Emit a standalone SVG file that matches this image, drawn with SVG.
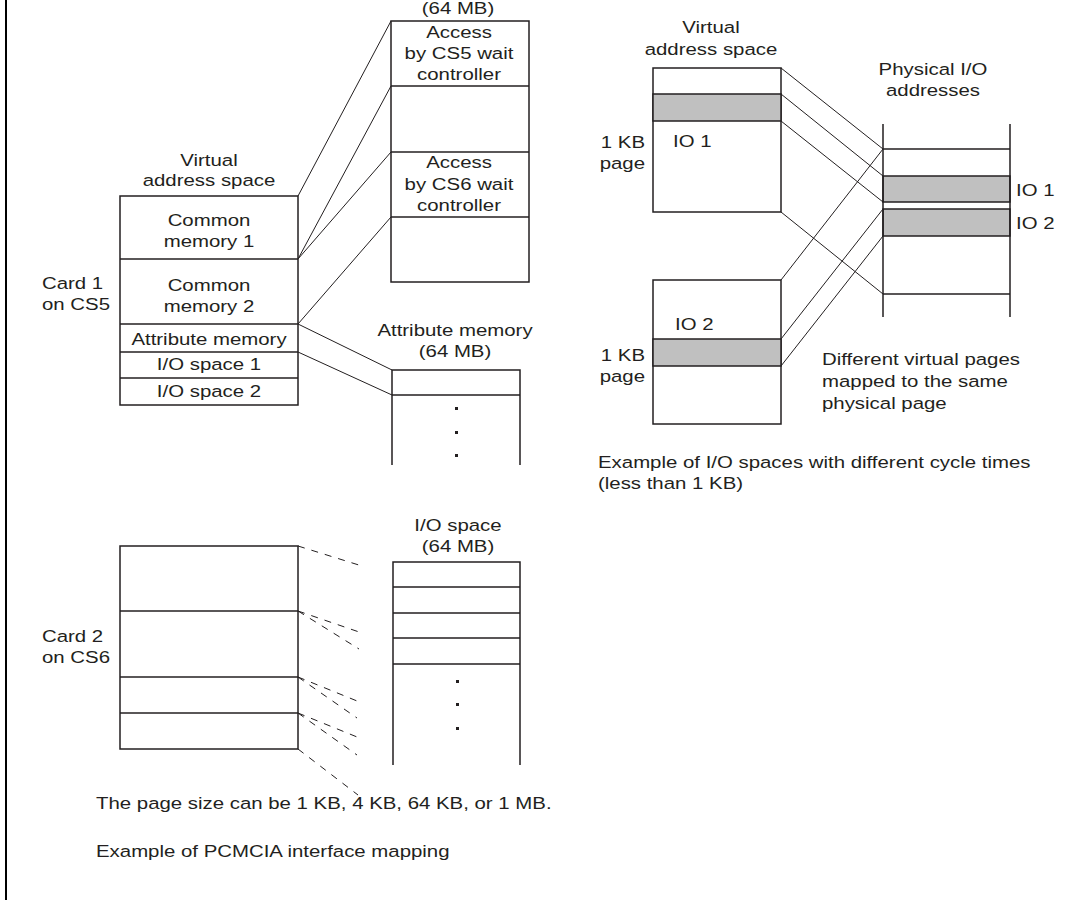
<svg xmlns="http://www.w3.org/2000/svg" width="1068" height="900" viewBox="0 0 1068 900">
<style>
text{font-family:"Liberation Sans",Arial,sans-serif;font-size:17px;fill:#231f20}
.m{text-anchor:middle}
.e{text-anchor:end}
.bx{fill:#fff;stroke:#231f20;stroke-width:1.5}
.ln{stroke:#231f20;stroke-width:1.5;fill:none}
.cn{stroke:#231f20;stroke-width:1;fill:none}
.ds{stroke:#231f20;stroke-width:1;fill:none;stroke-dasharray:7 7}
.gr{fill:#c0c0c0;stroke:#231f20;stroke-width:1.5}
.dot{fill:#231f20}
</style>
<rect x="0" y="0" width="1068" height="900" fill="#fff"/>
<line x1="6" y1="0" x2="6" y2="900" stroke="#000" stroke-width="2"/>

<g id="connectors">
<line class="cn" x1="298" y1="196" x2="391" y2="21"/>
<line class="cn" x1="298" y1="259" x2="391" y2="86"/>
<line class="cn" x1="298" y1="259" x2="391" y2="152"/>
<line class="cn" x1="298" y1="324" x2="391" y2="217"/>
<line class="cn" x1="298" y1="324" x2="392" y2="370"/>
<line class="cn" x1="298" y1="352" x2="392" y2="395"/>
<line class="ds" x1="298" y1="546" x2="362" y2="566"/>
<line class="ds" x1="298" y1="611" x2="362" y2="633"/>
<line class="ds" x1="298" y1="611" x2="359" y2="649"/>
<line class="ds" x1="298" y1="677" x2="362" y2="703"/>
<line class="ds" x1="298" y1="677" x2="357" y2="718"/>
<line class="ds" x1="298" y1="713" x2="362" y2="739"/>
<line class="ds" x1="298" y1="713" x2="357" y2="755"/>
<line class="ds" x1="298" y1="749" x2="358" y2="795"/>
<line class="cn" x1="781" y1="68" x2="883" y2="149"/>
<line class="cn" x1="781" y1="94" x2="883" y2="176"/>
<line class="cn" x1="781" y1="121" x2="883" y2="202"/>
<line class="cn" x1="781" y1="212" x2="883" y2="294"/>
<line class="cn" x1="781" y1="280" x2="883" y2="149"/>
<line class="cn" x1="781" y1="339" x2="883" y2="209"/>
<line class="cn" x1="781" y1="366" x2="883" y2="236"/>
</g>

<g id="common-memory-64mb">
<text class="m" transform="translate(458 14) scale(1.2 1)">(64 MB)</text>
<rect class="bx" x="391" y="21" width="138" height="261"/>
<line class="ln" x1="391" y1="86" x2="529" y2="86"/>
<line class="ln" x1="391" y1="152" x2="529" y2="152"/>
<line class="ln" x1="391" y1="217" x2="529" y2="217"/>
<text class="m" transform="translate(459 38) scale(1.2 1)">Access</text>
<text class="m" transform="translate(459 59) scale(1.2 1)">by CS5 wait</text>
<text class="m" transform="translate(459 80) scale(1.2 1)">controller</text>
<text class="m" transform="translate(459 168) scale(1.2 1)">Access</text>
<text class="m" transform="translate(459 190) scale(1.2 1)">by CS6 wait</text>
<text class="m" transform="translate(459 211) scale(1.2 1)">controller</text>
</g>

<g id="card1">
<text transform="translate(42 289) scale(1.2 1)">Card 1</text>
<text transform="translate(42 310) scale(1.2 1)">on CS5</text>
<text class="m" transform="translate(209 166) scale(1.2 1)">Virtual</text>
<text class="m" transform="translate(209 186) scale(1.2 1)">address space</text>
<rect class="bx" x="120" y="196" width="178" height="209"/>
<line class="ln" x1="120" y1="259" x2="298" y2="259"/>
<line class="ln" x1="120" y1="324" x2="298" y2="324"/>
<line class="ln" x1="120" y1="352" x2="298" y2="352"/>
<line class="ln" x1="120" y1="378" x2="298" y2="378"/>
<text class="m" transform="translate(209 226) scale(1.2 1)">Common</text>
<text class="m" transform="translate(209 247) scale(1.2 1)">memory 1</text>
<text class="m" transform="translate(209 291) scale(1.2 1)">Common</text>
<text class="m" transform="translate(209 312) scale(1.2 1)">memory 2</text>
<text class="m" transform="translate(209 345) scale(1.2 1)">Attribute memory</text>
<text class="m" transform="translate(209 370) scale(1.2 1)">I/O space 1</text>
<text class="m" transform="translate(209 397) scale(1.2 1)">I/O space 2</text>
</g>

<g id="attribute-memory-64mb">
<text class="m" transform="translate(455 336) scale(1.2 1)">Attribute memory</text>
<text class="m" transform="translate(455 357) scale(1.2 1)">(64 MB)</text>
<path class="ln" d="M392 465V370H520V465M392 395H520"/>
<rect class="dot" x="455" y="407" width="3" height="3"/>
<rect class="dot" x="455" y="431" width="3" height="3"/>
<rect class="dot" x="455" y="454" width="3" height="3"/>
</g>

<g id="card2">
<text transform="translate(42 642) scale(1.2 1)">Card 2</text>
<text transform="translate(42 663) scale(1.2 1)">on CS6</text>
<rect class="bx" x="120" y="546" width="178" height="203"/>
<line class="ln" x1="120" y1="611" x2="298" y2="611"/>
<line class="ln" x1="120" y1="677" x2="298" y2="677"/>
<line class="ln" x1="120" y1="713" x2="298" y2="713"/>
</g>

<g id="io-space-64mb">
<text class="m" transform="translate(458 531) scale(1.2 1)">I/O space</text>
<text class="m" transform="translate(458 552) scale(1.2 1)">(64 MB)</text>
<path class="ln" d="M393 765V562H520V765M393 587H520M393 613H520M393 638H520M393 664H520"/>
<rect class="dot" x="456" y="680" width="3" height="3"/>
<rect class="dot" x="456" y="703" width="3" height="3"/>
<rect class="dot" x="456" y="727" width="3" height="3"/>
</g>

<g id="virtual-page-io1">
<text class="m" transform="translate(711 33) scale(1.2 1)">Virtual</text>
<text class="m" transform="translate(711 55) scale(1.2 1)">address space</text>
<rect class="bx" x="653" y="68" width="128" height="144"/>
<rect class="gr" x="653" y="94" width="128" height="27"/>
<text class="e" transform="translate(645 148) scale(1.2 1)">1 KB</text>
<text class="e" transform="translate(645 169) scale(1.2 1)">page</text>
<text transform="translate(673 147) scale(1.2 1)">IO 1</text>
</g>

<g id="virtual-page-io2">
<rect class="bx" x="653" y="280" width="128" height="144"/>
<rect class="gr" x="653" y="339" width="128" height="27"/>
<text transform="translate(675 330) scale(1.2 1)">IO 2</text>
<text class="e" transform="translate(645 361) scale(1.2 1)">1 KB</text>
<text class="e" transform="translate(645 382) scale(1.2 1)">page</text>
</g>

<g id="physical-io">
<text class="m" transform="translate(933 75) scale(1.2 1)">Physical I/O</text>
<text class="m" transform="translate(933 96) scale(1.2 1)">addresses</text>
<rect class="gr" x="883" y="176" width="127" height="26"/>
<rect class="gr" x="883" y="209" width="127" height="27"/>
<path class="ln" d="M883 124V317M1010 124V317M883 149H1010M883 294H1010"/>
<text transform="translate(1016 196) scale(1.2 1)">IO 1</text>
<text transform="translate(1016 229) scale(1.2 1)">IO 2</text>
</g>

<g id="notes">
<text transform="translate(822 365) scale(1.2 1)">Different virtual pages</text>
<text transform="translate(822 387) scale(1.2 1)">mapped to the same</text>
<text transform="translate(822 409) scale(1.2 1)">physical page</text>
<text transform="translate(598 468) scale(1.2 1)">Example of I/O spaces with different cycle times</text>
<text transform="translate(598 489) scale(1.2 1)">(less than 1 KB)</text>
<text transform="translate(96 809) scale(1.2 1)">The page size can be 1 KB, 4 KB, 64 KB, or 1 MB.</text>
<text transform="translate(96 857) scale(1.2 1)">Example of PCMCIA interface mapping</text>
</g>
</svg>
